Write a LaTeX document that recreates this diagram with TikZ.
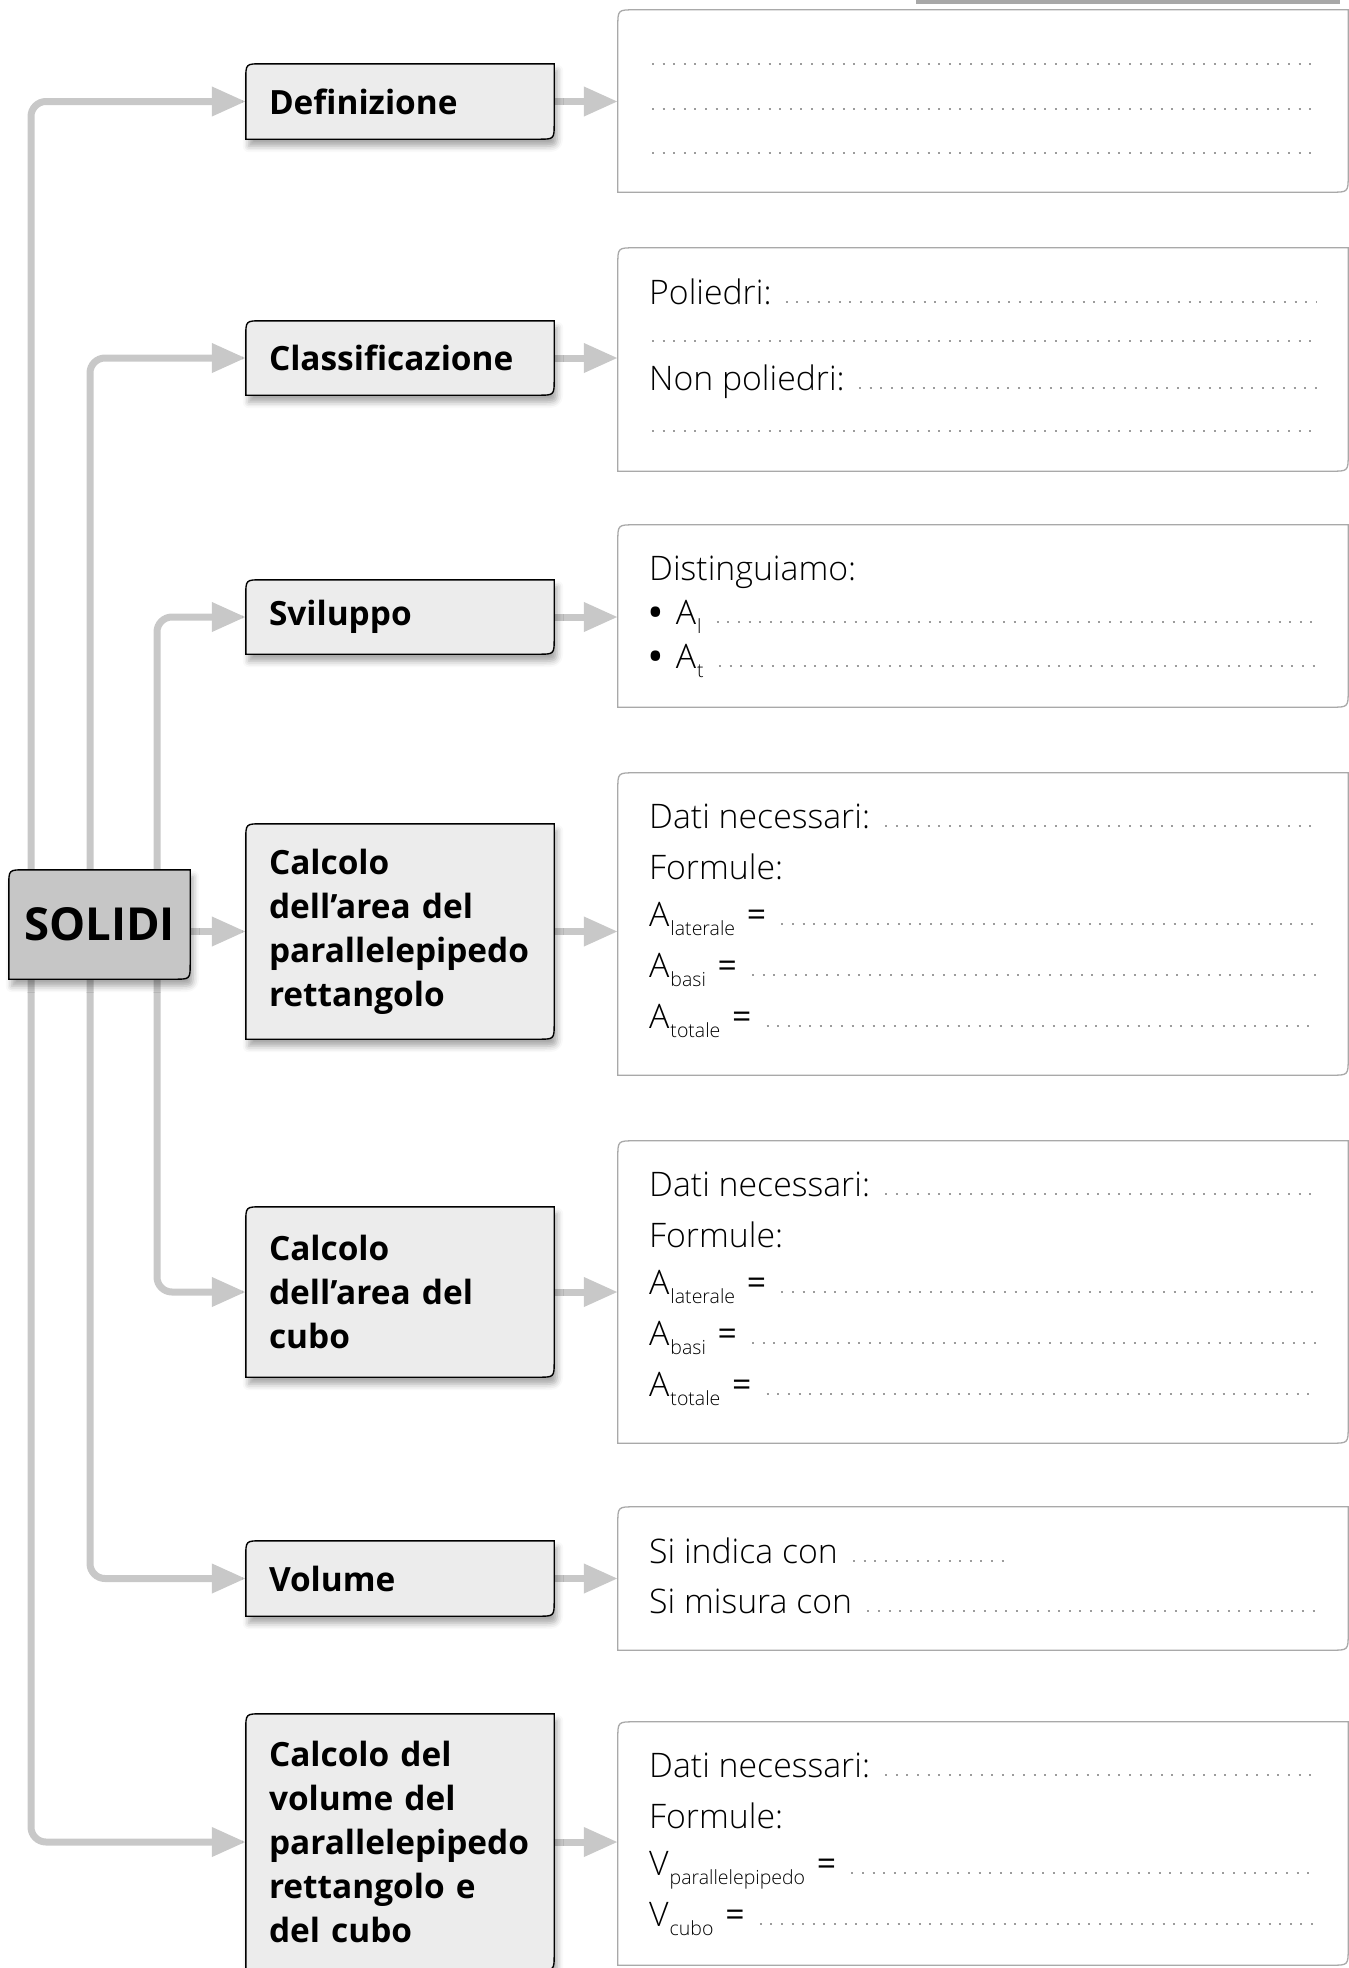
\documentclass[tikz,border=0pt]{standalone}
\usepackage{fontspec}
\setmainfont{Open Sans}
\newfontfamily\lightfont{Open Sans Light}
\usetikzlibrary{arrows.meta,calc,shadows.blur}

\definecolor{linkgray}{HTML}{C8C8C8}
\definecolor{topicfill}{HTML}{ECECEC}
\definecolor{rootfill}{HTML}{C6C6C6}
\definecolor{panelrule}{HTML}{A9A9A9}
\definecolor{dotgray}{HTML}{9C9C9C}
\definecolor{bargray}{HTML}{A8A8A8}

\pgfdeclarelayer{links}
\pgfdeclarelayer{frames}
\pgfsetlayers{links,frames,main}

\newcommand\topicfont{\bfseries\fontsize{33.4}{44}\selectfont}
\newcommand\panelfont{\lightfont\fontsize{33.8}{34}\selectfont}
\newcommand\subfont{\lightfont\fontsize{19.5}{19.5}\selectfont}
\newcommand\lowidx[1]{\kern1pt\raisebox{-9pt}{\subfont #1}}
\newcommand\eqsign{\hspace{3pt}{\normalfont\fontsize{33.8}{34}\selectfont =}}
\newcommand\dotmark{{\normalfont\bfseries\fontsize{33.8}{34}\selectfont •}}

% outline with rounded top-left and bottom-right corners only
\newcommand\cutbox[3]{%
  \path[#3] (#1.south west) -- ($(#1.north west)+(0,#2)$)
    .. controls (#1.north west) .. ($(#1.north west)+(#2,0)$)
    -- (#1.north east) -- ($(#1.south east)+(0,-#2)$)
    .. controls (#1.south east) .. ($(#1.south east)+(-#2,0)$) -- cycle;}

% dotted answer line after a text node, up to the common right end
\newcommand\leaderfrom[2]{%
  \draw[leader] ($(#1.base east)+(#2,-1.6)$) -- ($(#1.base east -| dotend)+(0,-1.6)$);}

\tikzset{
  link/.style={draw=linkgray, line width=7pt, rounded corners=15pt,
    -{Triangle[length=34pt,width=28pt]}},
  topic/.style={inner xsep=23pt, inner ysep=0pt, text width=262pt,
    align=left, font=\topicfont, minimum width=308pt},
  panel/.style={inner sep=0pt, minimum width=730pt},
  topicframe/.style={fill=topicfill, draw=black, line width=1.4pt,
    blur shadow={shadow xshift=3pt, shadow yshift=-7pt,
      shadow blur radius=6pt, shadow opacity=35}},
  rootframe/.style={fill=rootfill, draw=black, line width=1.4pt,
    blur shadow={shadow xshift=3pt, shadow yshift=-7pt,
      shadow blur radius=6pt, shadow opacity=35}},
  panelframe/.style={fill=white, draw=panelrule, line width=1.3pt},
  ptext/.style={anchor=base west, inner sep=0pt, font=\panelfont},
  leader/.style={draw=dotgray, line width=2pt, dash pattern=on 2pt off 8.6pt},
}

\begin{document}
\begin{tikzpicture}[x=1pt,y=-1pt]
\useasboundingbox (0,0) rectangle (1349,1968);

\coordinate (t1) at (31,0);
\coordinate (t2) at (90,0);
\coordinate (t3) at (157,0);
\coordinate (dotend) at (1317,0);

% root
\node[inner sep=0pt, minimum width=181pt, minimum height=109pt,
      font=\bfseries\fontsize{45.5}{46}\selectfont] (solidi) at (99.5,924.5) {SOLIDI};

% topics
\node[topic, minimum height=75pt]  (def) at (400,101.5) {Definizione};
\node[topic, minimum height=74pt]  (cla) at (400,358)   {Classificazione};
\node[topic, minimum height=74pt]  (svi) at (400,617)   {Sviluppo};
\node[topic, minimum height=215pt] (cap) at (400,931.5) {Calcolo\\dell’area del\\parallelepipedo\\rettangolo};
\node[topic, minimum height=170pt] (cac) at (400,1292)  {Calcolo\\dell’area del\\cubo};
\node[topic, minimum height=75pt]  (vol) at (400,1578.5){Volume};
\node[topic, minimum height=256pt] (cvo) at (400,1842)  {Calcolo del\\volume del\\parallelepipedo\\rettangolo e\\del cubo};

% answer panels
\node[panel, minimum height=182pt] (r1) at (983,101)    {};
\node[panel, minimum height=223pt] (r2) at (983,359.5)  {};
\node[panel, minimum height=182pt] (r3) at (983,616)    {};
\node[panel, minimum height=302pt] (r4) at (983,924)    {};
\node[panel, minimum height=302pt] (r5) at (983,1292)   {};
\node[panel, minimum height=143pt] (r6) at (983,1578.5) {};
\node[panel, minimum height=243pt] (r7) at (983,1843.5) {};

% frames
\begin{pgfonlayer}{frames}
  \foreach \n in {def,cla,svi,cap,cac,vol,cvo} {\cutbox{\n}{16}{topicframe}}
  \cutbox{solidi}{16}{rootframe}
  \foreach \n in {r1,r2,r3,r4,r5,r6,r7} {\cutbox{\n}{17}{panelframe}}
\end{pgfonlayer}

% connectors
\begin{pgfonlayer}{links}
  \draw[link] (solidi.north -| t1) |- (def.west);
  \draw[link] (solidi.north -| t2) |- (cla.west);
  \draw[link] (solidi.north -| t3) |- (svi.west);
  \draw[link] (solidi.east |- cap.west) -- (cap.west);
  \draw[link] (solidi.south -| t3) |- (cac.west);
  \draw[link] (solidi.south -| t2) |- (vol.west);
  \draw[link] (solidi.south -| t1) |- (cvo.west);
  \foreach \a/\b in {def/r1,cla/r2,svi/r3,cap/r4,cac/r5,vol/r6,cvo/r7}
    \draw[link] (\a.east) -- (\a.east -| \b.west);
\end{pgfonlayer}

% strip at the top edge
\fill[bargray] (916,0) rectangle (1340,3.5);

% panel 1: Definizione
\draw[leader] (652,63.6) -- (dotend |- 0,63.6);
\draw[leader] (652,108.6) -- (dotend |- 0,108.6);
\draw[leader] (652,152.6) -- (dotend |- 0,152.6);

% panel 2: Classificazione
\node[ptext] (p2a) at (649,304) {Poliedri:};
\leaderfrom{p2a}{14}
\draw[leader] (652,341.4) -- (dotend |- 0,341.4);
\node[ptext] (p2b) at (649,390) {Non poliedri:};
\leaderfrom{p2b}{14}
\draw[leader] (652,431.4) -- (dotend |- 0,431.4);

% panel 3: Sviluppo
\node[ptext] (p3a) at (649,580) {Distinguiamo:};
\node[ptext] (p3b) at (649,624) {\dotmark\hspace{14pt}A\lowidx{l}};
\leaderfrom{p3b}{15}
\node[ptext] (p3c) at (649,668) {\dotmark\hspace{14pt}A\lowidx{t}};
\leaderfrom{p3c}{15}

% panel 4: area of the rectangular parallelepiped
\node[ptext] (p4a) at (649,828)  {Dati necessari:};
\leaderfrom{p4a}{15}
\node[ptext] (p4b) at (649,879)  {Formule:};
\node[ptext] (p4c) at (649,926)  {A\lowidx{laterale}\ \eqsign};
\leaderfrom{p4c}{15}
\node[ptext] (p4d) at (649,977)  {A\lowidx{basi}\ \eqsign};
\leaderfrom{p4d}{15}
\node[ptext] (p4e) at (649,1028) {A\lowidx{totale}\ \eqsign};
\leaderfrom{p4e}{15}

% panel 5: area of the cube
\node[ptext] (p5a) at (649,1196) {Dati necessari:};
\leaderfrom{p5a}{15}
\node[ptext] (p5b) at (649,1247) {Formule:};
\node[ptext] (p5c) at (649,1294) {A\lowidx{laterale}\ \eqsign};
\leaderfrom{p5c}{15}
\node[ptext] (p5d) at (649,1345) {A\lowidx{basi}\ \eqsign};
\leaderfrom{p5d}{15}
\node[ptext] (p5e) at (649,1396) {A\lowidx{totale}\ \eqsign};
\leaderfrom{p5e}{15}

% panel 6: volume
\node[ptext] (p6a) at (649,1563) {Si indica con};
\draw[leader] ($(p6a.base east)+(15,-1.6)$) -- (1010,1561.4);
\node[ptext] (p6b) at (649,1613) {Si misura con};
\leaderfrom{p6b}{15}

% panel 7: volume of parallelepiped and cube
\node[ptext] (p7a) at (649,1777) {Dati necessari:};
\leaderfrom{p7a}{15}
\node[ptext] (p7b) at (649,1828) {Formule:};
\node[ptext] (p7c) at (649,1875) {V\lowidx{parallelepipedo}\ \eqsign};
\leaderfrom{p7c}{15}
\node[ptext] (p7d) at (649,1926) {V\lowidx{cubo}\ \eqsign};
\leaderfrom{p7d}{15}
\end{tikzpicture}
\end{document}
